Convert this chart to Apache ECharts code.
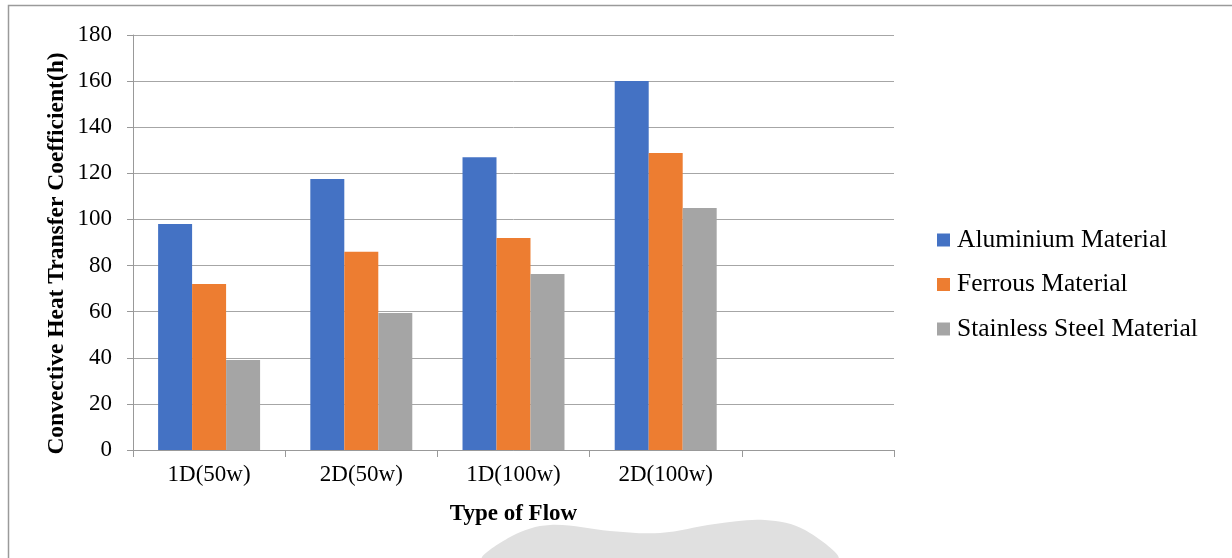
<!DOCTYPE html>
<html>
<head>
<meta charset="utf-8">
<title>Convective Heat Transfer Coefficient by Type of Flow</title>
<script src="https://cdn.jsdelivr.net/npm/echarts@6/dist/echarts.min.js"></script>
<style>
  html, body { margin: 0; padding: 0; background: #ffffff; }
  #chart { width: 1232px; height: 558px; }
</style>
</head>
<body>
<div id="chart"></div>
<script>
// Flow configurations (the fifth slot is an empty category on the axis)
const categories = ['1D(50w)', '2D(50w)', '1D(100w)', '2D(100w)', ''];

// Convective heat transfer coefficient h for each material
const aluminium = [98, 117.5, 127, 160];
const ferrous = [72, 86, 92, 128.8];
const stainless = [39, 59.4, 76.3, 105];

const seriesNames = ['Aluminium Material', 'Ferrous Material', 'Stainless Steel Material'];
const yTicks = { min: 0, max: 180, interval: 20 };

const FONT = 'Liberation Serif';
const colors = ['#4472C4', '#ED7D31', '#A5A5A5'];

const chart = echarts.init(document.getElementById('chart'), null, { renderer: 'canvas' });

function barSeries(name, data, color) {
  return {
    name: name,
    type: 'bar',
    data: data,
    barGap: '0%',
    barCategoryGap: '33%',
    itemStyle: { color: color },
    emphasis: { disabled: true }
  };
}

chart.setOption({
  animation: false,
  backgroundColor: '#ffffff',
  color: colors,
  grid: { left: 133, right: 338, top: 35, bottom: 108, containLabel: false },
  legend: {
    orient: 'vertical',
    left: 932,
    top: 222,
    itemWidth: 13,
    itemHeight: 13,
    itemGap: 18.5,
    icon: 'rect',
    textStyle: { fontFamily: FONT, fontSize: 25.5, color: '#000000', padding: [0, 0, 0, 2] },
    data: seriesNames
  },
  xAxis: {
    type: 'category',
    data: categories,
    boundaryGap: true,
    axisLine: { show: true, lineStyle: { color: '#999999', width: 1 } },
    axisTick: { show: true, length: 7, lineStyle: { color: '#999999' } },
    axisLabel: { fontFamily: FONT, fontSize: 23, color: '#000000', margin: 13 },
    name: 'Type of Flow',
    nameLocation: 'middle',
    nameGap: 53,
    nameTextStyle: { fontFamily: FONT, fontSize: 23, fontWeight: 'bold', color: '#000000' }
  },
  yAxis: {
    type: 'value',
    min: yTicks.min,
    max: yTicks.max,
    interval: yTicks.interval,
    axisLine: { show: true, lineStyle: { color: '#999999', width: 1 } },
    axisTick: { show: true, length: 6, lineStyle: { color: '#999999' } },
    axisLabel: { fontFamily: FONT, fontSize: 23, color: '#000000', margin: 21 },
    splitLine: { show: true, lineStyle: { color: '#a6a6a6', width: 1 } }
  },
  graphic: [
    // outer frame (top and left edges)
    {
      type: 'polyline',
      silent: true,
      shape: { points: [[8.5, 558], [8.5, 5.5], [1232, 5.5]] },
      style: { stroke: '#9a9a9a', lineWidth: 1.5, fill: null },
      z: 0
    },
    // soft grey shape along the bottom edge
    {
      type: 'polygon',
      silent: true,
      shape: {
        points: [[484, 560], [512, 536], [550, 525], [610, 531], [660, 533], [715, 524], [765, 520], [805, 530], [836, 560]],
        smooth: 0.35
      },
      style: { fill: '#e0e0e0', stroke: null },
      z: 0
    },
    // y-axis title
    {
      type: 'text',
      silent: true,
      x: 57,
      y: 253.5,
      rotation: Math.PI / 2,
      style: {
        text: 'Convective Heat Transfer Coefficient(h)',
        font: 'bold 23.5px "Liberation Serif"',
        fill: '#000000',
        align: 'center',
        verticalAlign: 'middle'
      },
      z: 10
    }
  ],
  series: [
    barSeries(seriesNames[0], aluminium, colors[0]),
    barSeries(seriesNames[1], ferrous, colors[1]),
    barSeries(seriesNames[2], stainless, colors[2])
  ]
});
</script>
</body>
</html>
